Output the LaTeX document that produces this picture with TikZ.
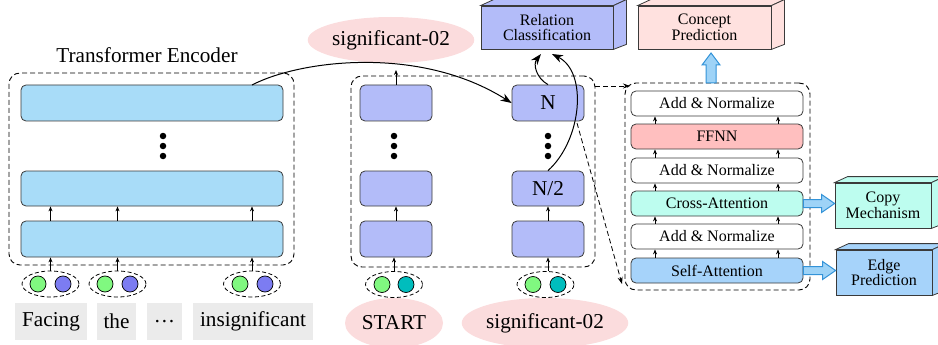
\documentclass[tikz,border=0pt]{standalone}
\usepackage{fontspec}
\setmainfont{Liberation Serif}
\usetikzlibrary{arrows.meta,shapes.geometric,calc}

\definecolor{encblue}{HTML}{A8DCF8}
\definecolor{decblue}{HTML}{B3BCF9}
\definecolor{conceptpink}{HTML}{FFE1DF}
\definecolor{ffnnred}{HTML}{FFBFBF}
\definecolor{mint}{HTML}{BDFDEF}
\definecolor{selfblue}{HTML}{A6D3FA}
\definecolor{concpink}{HTML}{FBDCDD}
\definecolor{tokgreen}{HTML}{80F880}
\definecolor{tokblue}{HTML}{7C7CF2}
\definecolor{tokteal}{HTML}{00BDBD}
\definecolor{wordgray}{HTML}{EBEBEB}
\definecolor{arrfill}{HTML}{9ED3F7}
\definecolor{arrdraw}{HTML}{3393D8}
\definecolor{edge}{HTML}{3A3A3A}

\newcommand{\bigtext}{\fontsize{21.2}{23}\selectfont}
\newcommand{\smalltext}{\fontsize{16}{17.5}\selectfont}

\tikzset{
  bar/.style={draw=edge, line width=0.8pt, rounded corners=5pt, inner sep=0pt},
  layer/.style={draw=edge, line width=0.8pt, rounded corners=5pt, inner sep=0pt,
    minimum width=172pt, minimum height=25pt, font=\smalltext},
  frame/.style={draw=black, line width=0.9pt, dash pattern=on 5pt off 3pt,
    rounded corners=11pt, inner sep=0pt},
  grp/.style={ellipse, draw=black, line width=0.8pt, dash pattern=on 4pt off 2.5pt,
    minimum width=57pt, minimum height=26pt, inner sep=0pt},
  tok/.style={circle, draw=black, line width=0.7pt, minimum size=16pt, inner sep=0pt},
  word/.style={fill=wordgray, inner sep=0pt, font=\bigtext},
  concept/.style={ellipse, fill=concpink, inner sep=0pt, font=\bigtext},
  cube/.style={draw=edge, line width=0.8pt, inner sep=0pt, font=\smalltext, align=center},
  dot/.style={circle, fill=black, minimum size=6.5pt, inner sep=0pt},
  tiny/.style={-{Stealth[length=5pt,width=4pt]}, line width=0.7pt},
  curvy/.style={-{Stealth[length=11pt,width=8pt]}, line width=1pt},
  zoomline/.style={-{Stealth[length=7pt,width=5pt]}, line width=0.8pt, dash pattern=on 5pt off 3pt},
  blockarr/.style={fill=arrfill, draw=arrdraw, line width=1pt, line join=miter}
}

% draws the top and right faces of a box node
\newcommand{\cubefaces}[2]{%
  \filldraw[fill=#2, draw=edge, line width=0.8pt]
    (#1.north west) -- ++(13,-6) -- ($(#1.north east)+(13,-6)$) -- (#1.north east) -- cycle;
  \filldraw[fill=#2, draw=edge, line width=0.8pt]
    (#1.north east) -- ++(13,-6) -- ($(#1.south east)+(13,-5)$) -- (#1.south east) -- cycle;
}
% wide arrow pointing right from #1 to #2 (same height)
\newcommand{\rightblock}[2]{%
  \draw[blockarr] ($(#1)+(0,-4)$) -- ($(#2)+(-13,-4)$) -- ($(#2)+(-13,-9)$) -- (#2)
    -- ($(#2)+(-13,9)$) -- ($(#2)+(-13,4)$) -- ($(#1)+(0,4)$) -- cycle;
}
% wide arrow pointing up from #1 to #2 (same x)
\newcommand{\upblock}[2]{%
  \draw[blockarr] ($(#1)+(-5,0)$) -- ($(#2)+(-5,12)$) -- ($(#2)+(-9,12)$) -- (#2)
    -- ($(#2)+(9,12)$) -- ($(#2)+(5,12)$) -- ($(#1)+(5,0)$) -- cycle;
}

\begin{document}
\begin{tikzpicture}[x=1pt, y=-1pt]
\useasboundingbox (0,0) rectangle (938,345);

% ---------------- encoder ----------------
\node[frame, minimum width=285pt, minimum height=192pt] (encframe) at (151.5,169) {};
\node[font=\bigtext] (enclabel) at (147,55) {Transformer Encoder};
\node[bar, fill=encblue, minimum width=262pt, minimum height=36pt] (enc1) at (152,103) {};
\node[bar, fill=encblue, minimum width=262pt, minimum height=35pt] (enc2) at (152,188.5) {};
\node[bar, fill=encblue, minimum width=262pt, minimum height=36pt] (enc3) at (152,239) {};
\node[dot] (ed1) at (163,136) {};
\node[dot] (ed2) at (163,146) {};
\node[dot] (ed3) at (163,156) {};

% token groups
\node[grp] (g1) at (50.5,284) {};
\node[grp] (g2) at (117.5,284) {};
\node[grp] (g3) at (252,284) {};
\node[tok, fill=tokgreen] (g1a) at (38,284) {};
\node[tok, fill=tokblue] (g1b) at (63,284) {};
\node[tok, fill=tokgreen] (g2a) at (105,284) {};
\node[tok, fill=tokblue] (g2b) at (130,284) {};
\node[tok, fill=tokgreen] (g3a) at (240,284) {};
\node[tok, fill=tokblue] (g3b) at (265,284) {};

\foreach \g in {g1,g2,g3}{
  \draw[tiny] (\g.north) -- (\g.north |- enc3.south);
  \draw[tiny] (\g.north |- enc3.north) -- (\g.north |- enc2.south);
}

% words
\node[word, minimum width=72pt, minimum height=37pt] (w1) at (51,321.5) {Facing};
\node[word, minimum width=39pt, minimum height=37pt] (w2) at (116.5,321.5) {the};
\node[word, minimum width=35pt, minimum height=37pt] (w3) at (164.5,321.5) {\dots};
\node[word, minimum width=120pt, minimum height=37pt] (w4) at (253,321.5) {insignificant};

% ---------------- decoder ----------------
\node[frame, minimum width=244pt, minimum height=191pt] (decframe) at (473,171.5) {};
\node[bar, fill=decblue, minimum width=72pt, minimum height=36pt] (dl1) at (396,103) {};
\node[bar, fill=decblue, minimum width=72pt, minimum height=35pt] (dl2) at (396,188.5) {};
\node[bar, fill=decblue, minimum width=72pt, minimum height=36pt] (dl3) at (396,239) {};
\node[bar, fill=decblue, minimum width=72pt, minimum height=36pt, font=\bigtext] (dr1) at (548,103) {N};
\node[bar, fill=decblue, minimum width=72pt, minimum height=35pt, font=\bigtext] (dr2) at (548,188.5) {N/2};
\node[bar, fill=decblue, minimum width=72pt, minimum height=36pt] (dr3) at (548,239) {};
\node[dot] (ld1) at (394,136) {};
\node[dot] (ld2) at (394,146) {};
\node[dot] (ld3) at (394,156) {};
\node[dot] (rd1) at (548,136) {};
\node[dot] (rd2) at (548,146) {};
\node[dot] (rd3) at (548,156) {};

\node[grp] (h1) at (394,284.5) {};
\node[grp] (h2) at (545.5,284.5) {};
\node[tok, fill=tokgreen] (h1a) at (382,284.5) {};
\node[tok, fill=tokteal] (h1b) at (406,284.5) {};
\node[tok, fill=tokgreen] (h2a) at (533,284.5) {};
\node[tok, fill=tokteal] (h2b) at (558,284.5) {};

\draw[tiny] (h1.north) -- (h1.north |- dl3.south);
\draw[tiny] (h2.north -| dr3) -- (dr3.south);
\draw[tiny] (dl3.north) -- (dl2.south);
\draw[tiny] (dr3.north) -- (dr2.south);
\coordinate (upout) at (396,70);
\draw[tiny] (dl1.north) -- (upout);

% concept labels
\node[concept, minimum width=166pt, minimum height=46pt] (c1) at (391,40) {significant-02};
\node[concept, minimum width=98pt, minimum height=50pt] (c2) at (394,323) {START};
\node[concept, minimum width=164pt, minimum height=50pt] (c3) at (545,323) {significant-02};

% encoder memory into the decoder
\coordinate (encout) at (252,85);
\draw[curvy] (encout) .. controls (300,60) and (420,45) .. (dr1.west);

% ---------------- output heads ----------------
\node[cube, fill=decblue, minimum width=132pt, minimum height=43pt] (rel) at (547,27.5)
  {Relation\\[-2pt]Classification};
\cubefaces{rel}{decblue}
\node[cube, fill=conceptpink, minimum width=133pt, minimum height=43pt] (cpt) at (704.5,27.5)
  {Concept\\[-2pt]Prediction};
\cubefaces{cpt}{conceptpink}
\node[cube, fill=mint, minimum width=96pt, minimum height=45pt] (copy) at (883,205.5)
  {Copy\\[-2pt]Mechanism};
\cubefaces{copy}{mint}
\node[cube, fill=selfblue, minimum width=96pt, minimum height=45pt] (edgep) at (884,272.5)
  {Edge\\[-2pt]Prediction};
\cubefaces{edgep}{selfblue}

\coordinate (relin1) at (541,54);
\coordinate (relin2) at (552,54);
\draw[curvy] (dr1.north) .. controls (536,78) and (533,64) .. (relin1);
\draw[curvy] (dr2.north) .. controls (582,140) and (588,72) .. (relin2);

% ---------------- decoder layer detail ----------------
\node[frame, minimum width=185pt, minimum height=207pt] (detframe) at (717.5,186.5) {};
\node[layer, fill=white] (an1) at (717,103.5) {Add \& Normalize};
\node[layer, fill=ffnnred] (ffnn) at (717,136.5) {FFNN};
\node[layer, fill=white] (an2) at (717,170.5) {Add \& Normalize};
\node[layer, fill=mint] (cross) at (717,203.5) {Cross-Attention};
\node[layer, fill=white] (an3) at (717,236.5) {Add \& Normalize};
\node[layer, fill=selfblue] (self) at (717,270.5) {Self-Attention};

\foreach \lo/\hi in {self/an3, an3/cross, cross/an2, an2/ffnn, ffnn/an1}{
  \draw[tiny] ($(\lo.north)+(-62,0)$) -- ($(\hi.south)+(-62,0)$);
  \draw[tiny] ($(\lo.north)+(61,0)$) -- ($(\hi.south)+(61,0)$);
}

% zoom-in guides from layer N
\coordinate (zA) at (595,86);
\coordinate (zB) at (630,86);
\coordinate (zC) at (577,123);
\coordinate (zD) at (622,284);
\draw[zoomline] (zA) -- (zB);
\draw[zoomline] (zC) -- (zD);

% wide arrows into the prediction heads
\coordinate (upfrom) at (711,83);
\coordinate (upto) at (711,53);
\upblock{upfrom}{upto}
\coordinate (cpto) at (copy.west |- cross.east);
\rightblock{cross.east}{cpto}
\coordinate (epto) at (edgep.west |- self.east);
\rightblock{self.east}{epto}

\end{tikzpicture}
\end{document}
